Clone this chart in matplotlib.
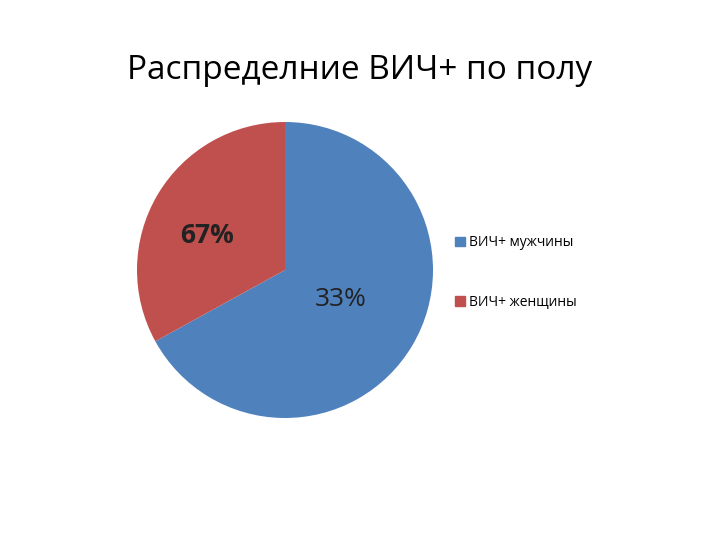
import matplotlib
matplotlib.use("Agg")
import matplotlib.pyplot as plt
from matplotlib.patches import Patch

categories = ["ВИЧ+ мужчины", "ВИЧ+ женщины"]
values = [67, 33]
shown_labels = ["33%", "67%"]
colors = ["#4F81BD", "#C0504D"]

plt.rcParams['font.family'] = ['Open Sans', 'DejaVu Sans']
fig = plt.figure(figsize=(7.2, 5.4), dpi=100)
fig.text(0.5, 0.87, "Распределние ВИЧ+ по полу", ha="center", va="center", fontsize=24)

ax = fig.add_axes([137/720, 122/540, 296/720, 296/540])
ax.pie(values, colors=colors, startangle=90, counterclock=False, radius=1)
ax.set_aspect("equal")
ax.set_xlim(-1, 1); ax.set_ylim(-1, 1)
ax.text(-0.53, 0.23, shown_labels[1], ha="center", va="center", fontsize=19, fontweight="bold", color="#222222")
ax.text(0.38, -0.2, shown_labels[0], ha="center", va="center", fontsize=19, color="#222222")

handles = [Patch(color=c) for c in colors]
fig.legend(handles, categories, loc="center left", bbox_to_anchor=(0.615, 0.495),
           frameon=False, fontsize=10, labelspacing=3.2, handlelength=0.7,
           handleheight=0.7, handletextpad=0.3)
fig.savefig("out.png", dpi=100)
